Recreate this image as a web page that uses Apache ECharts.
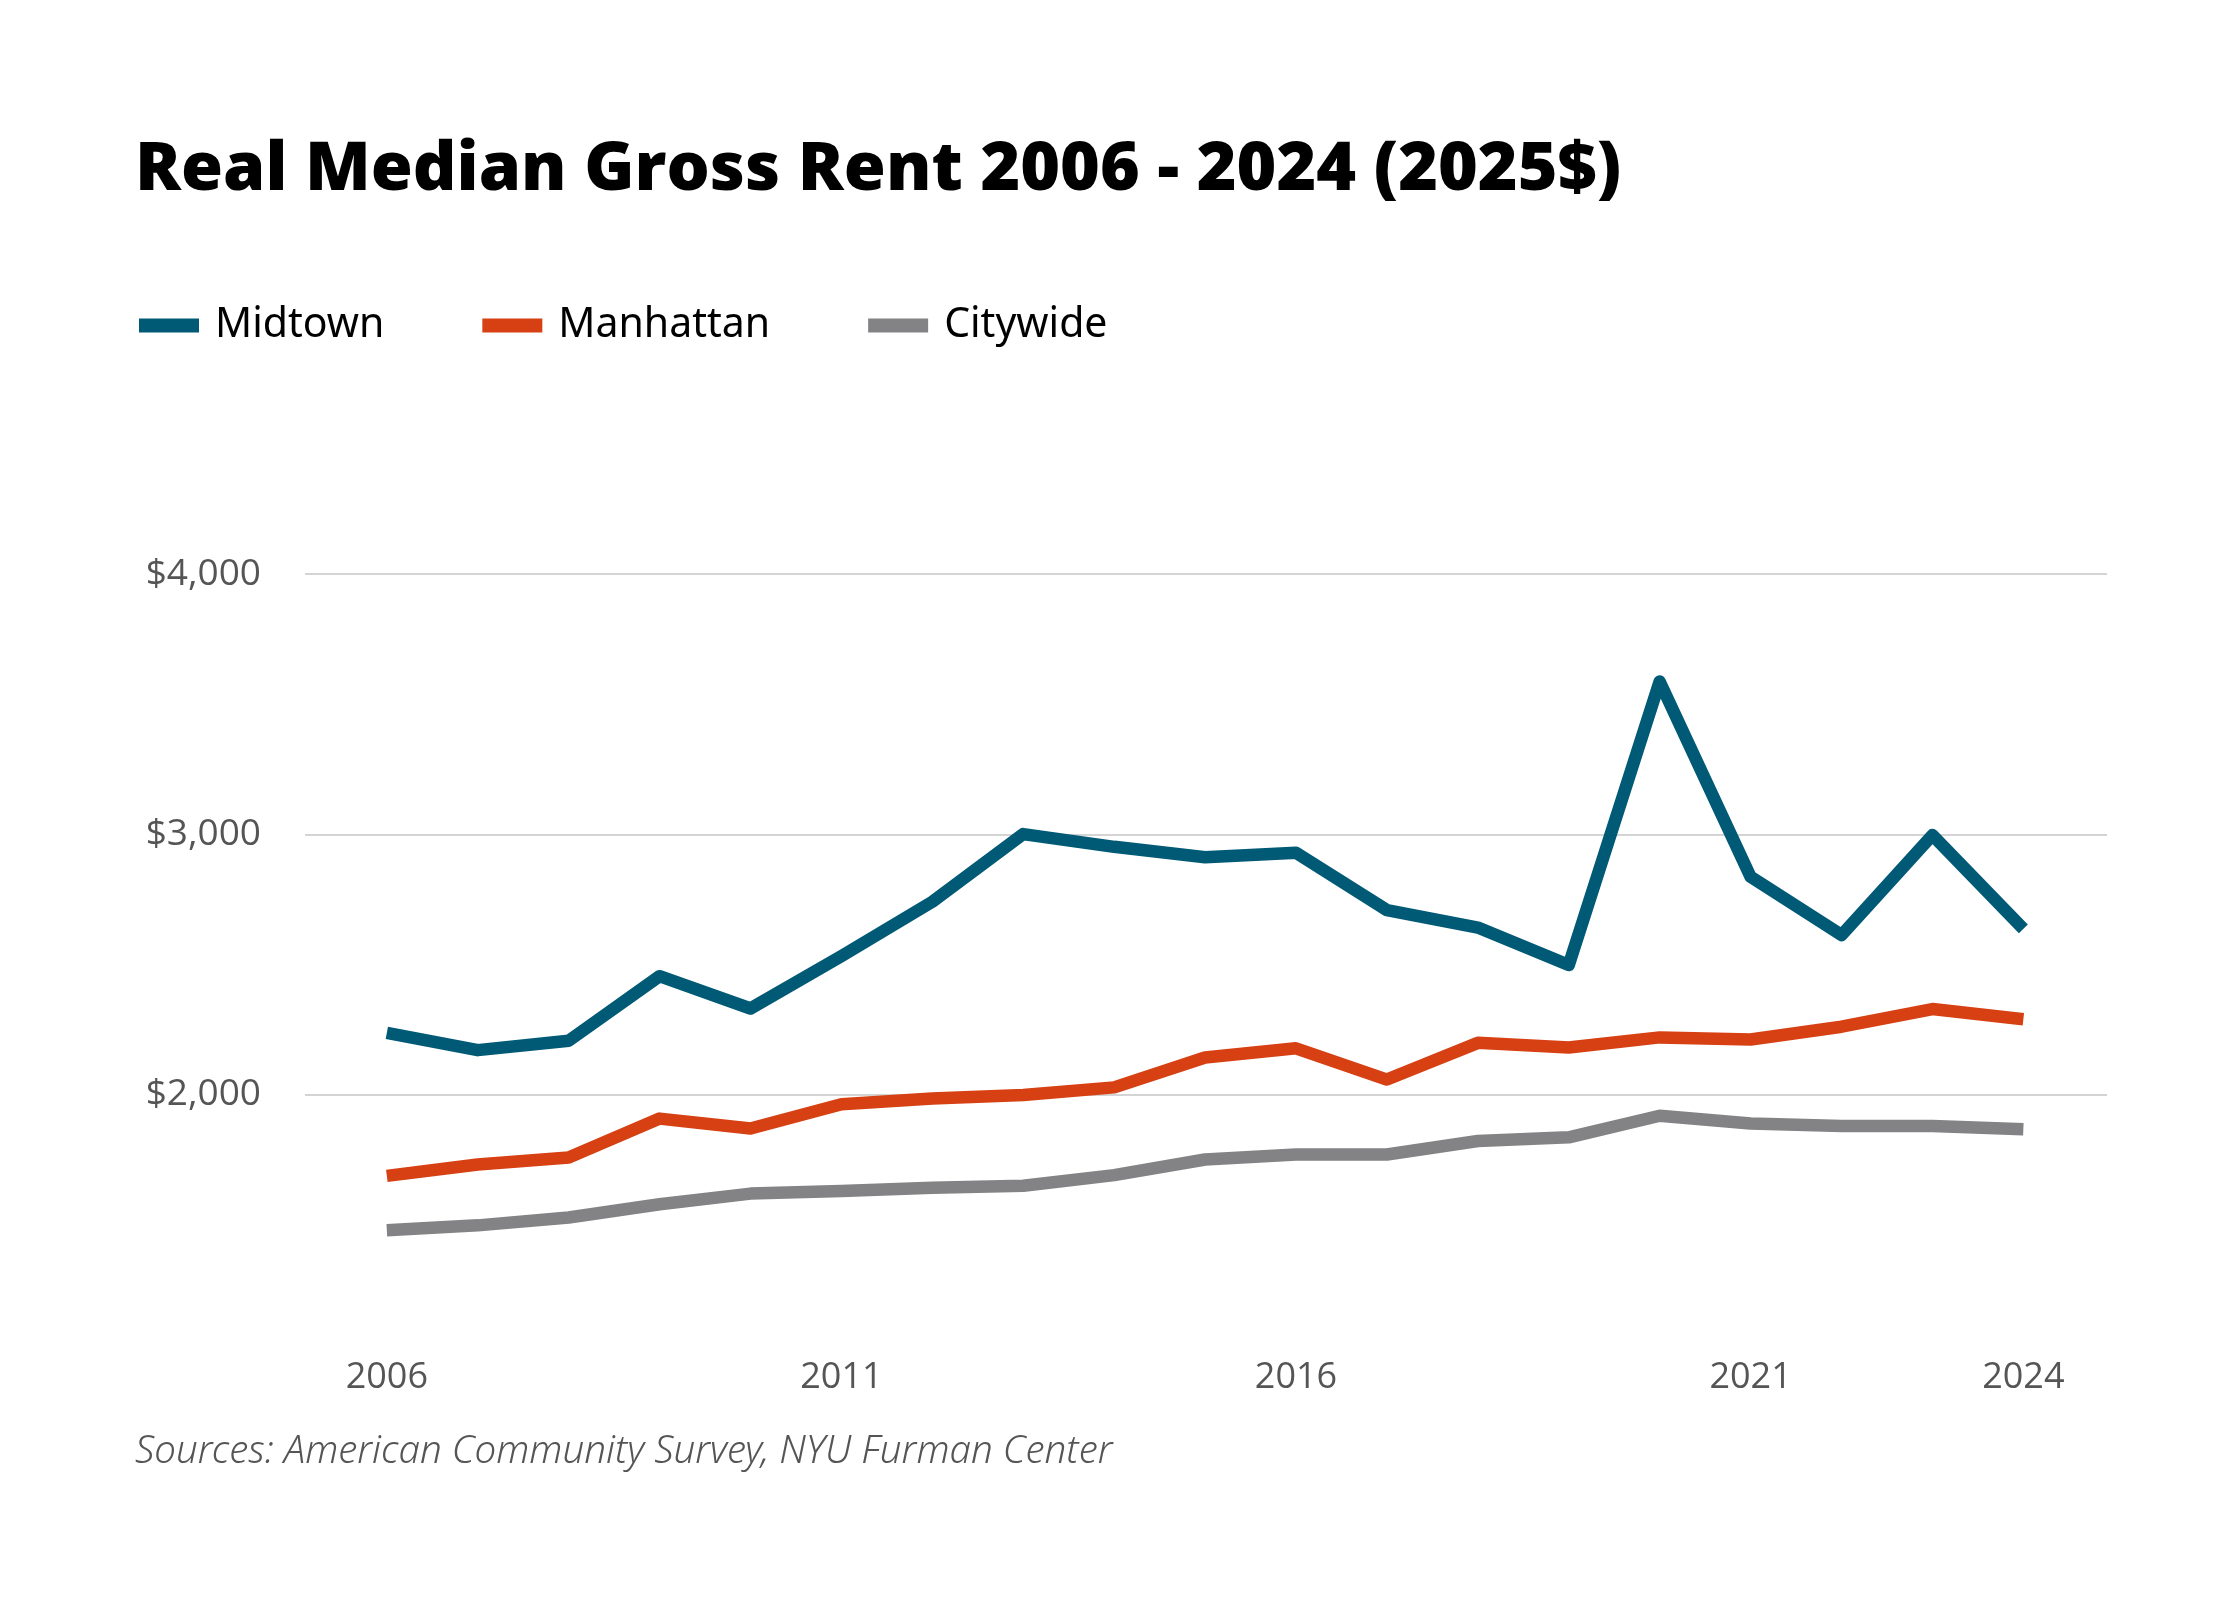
<!DOCTYPE html>
<html>
<head>
<meta charset="utf-8">
<style>
  html, body { margin: 0; padding: 0; background: #fff; }
  #chart { width: 2240px; height: 1600px; }
</style>
<script src="https://cdn.jsdelivr.net/npm/echarts@6/dist/echarts.min.js"></script>
</head>
<body>
<div id="chart"></div>
<script>
// 数据
const years = [2006, 2007, 2008, 2009, 2010, 2011, 2012, 2013, 2014, 2015, 2016, 2017, 2018, 2019, 2020, 2021, 2022, 2023, 2024];
const midtown = [2237, 2171, 2207, 2455, 2331, 2532, 2741, 3001, 2952, 2912, 2929, 2709, 2642, 2498, 3587, 2837, 2613, 2997, 2637];
const manhattan = [1688, 1732, 1759, 1908, 1870, 1963, 1985, 1999, 2028, 2143, 2178, 2058, 2199, 2181, 2220, 2212, 2261, 2329, 2290];
const citywide = [1479, 1498, 1528, 1579, 1620, 1630, 1642, 1650, 1691, 1751, 1770, 1770, 1822, 1836, 1919, 1889, 1880, 1880, 1867];
const xTicks = [2006, 2011, 2016, 2021, 2024];

const seriesList = [
    { name: 'Midtown', values: midtown, color: '#005a75' },
    { name: 'Manhattan', values: manhattan, color: '#d64013' },
    { name: 'Citywide', values: citywide, color: '#838385' }
];

const series = seriesList.map(v => {
    return {
        name: v.name,
        type: 'line',
        showSymbol: false,
        symbol: 'none',
        color: v.color,
        lineStyle: { width: 12.5, color: v.color, cap: 'butt', join: 'round' },
        data: years.map((y, i) => [y, v.values[i]])
    }
})

const chart = echarts.init(document.getElementById('chart'));
const options = {
    backgroundColor: '#ffffff',
    animation: false,
    title: [
        {
            text: 'Real Median Gross Rent 2006 - 2024 (2025$)',
            left: 130,
            top: 132,
            textStyle: { fontFamily: 'Open Sans', fontWeight: 800, fontSize: 68, color: '#000' }
        },
        {
            text: 'Sources: American Community Survey, NYU Furman Center',
            left: 130,
            top: 1428,
            textStyle: { fontFamily: 'Noto Sans', fontStyle: 'italic', fontWeight: 300, fontSize: 38.5, color: '#555' }
        }
    ],
    legend: {
        left: 134,
        top: 300,
        icon: 'rect',
        itemWidth: 60,
        itemHeight: 14,
        itemGap: 98,
        textStyle: { fontFamily: 'Noto Sans', fontSize: 41, color: '#000', padding: [0, 0, 0, 11] },
        data: seriesList.map(v => v.name)
    },
    grid: { left: 305, right: 133, top: 574, bottom: 245, containLabel: false },
    xAxis: {
        type: 'value',
        min: 2005.1,
        max: 2024.92,
        axisLine: { show: false },
        axisTick: { show: false },
        splitLine: { show: false },
        axisLabel: {
            customValues: xTicks,
            formatter: v => String(v),
            margin: 5,
            fontFamily: 'Open Sans',
            fontSize: 36,
            color: '#555'
        }
    },
    yAxis: {
        type: 'value',
        min: 1000,
        max: 4000,
        interval: 1000,
        axisLine: { show: false },
        axisTick: { show: false },
        splitLine: {
            lineStyle: { color: ['rgba(0,0,0,0)', '#d4d4d4', '#d4d4d4', '#d4d4d4'], width: 2 }
        },
        axisLabel: {
            margin: 44,
            fontFamily: 'Open Sans',
            fontSize: 37,
            color: '#555',
            formatter: v => v === 1000 ? '' : '$' + v.toLocaleString('en-US')
        }
    },
    series
};
chart.setOption(options);
</script>
</body>
</html>
